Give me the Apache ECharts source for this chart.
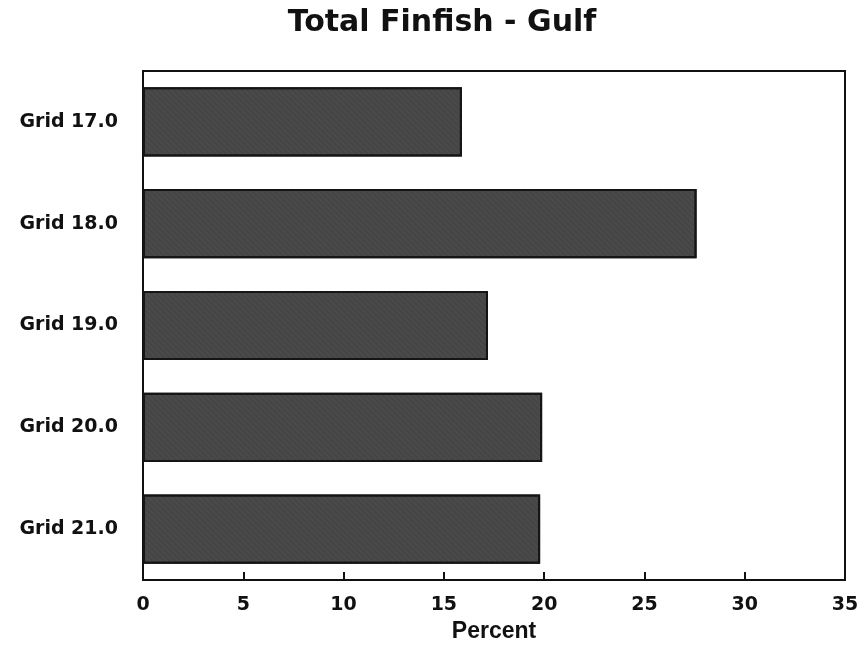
<!DOCTYPE html>
<html><head><meta charset="utf-8">
<script src="https://cdn.jsdelivr.net/npm/echarts@6/dist/echarts.min.js"></script>
<style>html,body{margin:0;padding:0;background:#fff}#c{width:866px;height:650px}</style>
</head><body><div id="c"></div>
<script>
const categories = ['Grid 17.0','Grid 18.0','Grid 19.0','Grid 20.0','Grid 21.0'];
const percentValues = [15.9, 27.6, 17.2, 19.9, 19.8];
const xTicks = [0,5,10,15,20,25,30,35];

const chart = echarts.init(document.getElementById('c'));
const dv = '"DejaVu Sans", "Liberation Sans", Arial, sans-serif';
const lib = '"Liberation Sans", Arial, Helvetica, sans-serif';
chart.setOption({
  animation:false,
  backgroundColor:'#fff',
  title:{text:'Total Finfish - Gulf',left:437,top:3,textAlign:'center',
    textStyle:{fontFamily:dv,fontWeight:'bold',fontSize:30,color:'#111'}},
  grid:{left:143,right:21,top:71,bottom:70,show:true,borderColor:'#111',borderWidth:2,
    containLabel:false,outerBoundsMode:'none'},
  xAxis:{type:'value',min:0,max:35,interval:5,
    name:'Percent',nameLocation:'middle',nameGap:37,
    nameTextStyle:{fontFamily:lib,fontWeight:'bold',fontSize:23,color:'#111'},
    axisLine:{show:true,lineStyle:{color:'#111',width:2}},
    axisTick:{show:true,inside:true,length:8,lineStyle:{color:'#111',width:2}},
    axisLabel:{margin:16,fontFamily:dv,fontWeight:'bold',fontSize:19,color:'#111',
      formatter:v=>xTicks.includes(v)?String(v):''},
    splitLine:{show:false}},
  yAxis:{type:'category',data:categories,inverse:true,
    axisLine:{show:true,lineStyle:{color:'#111',width:2}},
    axisTick:{show:false},
    axisLabel:{margin:25,fontFamily:dv,fontWeight:'bold',fontSize:19,color:'#111'}},
  series:[{type:'bar',data:percentValues,barCategoryGap:'32%',
    itemStyle:{color:'#4a4a4a',borderColor:'#151515',borderWidth:2,
      decal:{symbol:'rect',symbolSize:0.5,dashArrayX:[1,0],dashArrayY:[2,2],rotation:0.785,color:'rgba(20,20,20,0.35)'}}}]
});
</script></body></html>
